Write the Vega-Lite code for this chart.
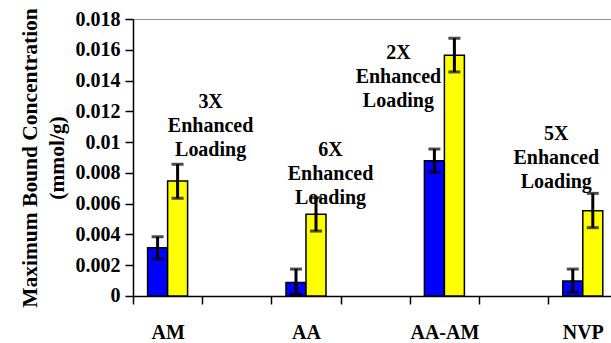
{
  "$schema": "https://vega.github.io/schema/vega-lite/v6.json",
  "autosize": {"type": "none"},
  "padding": {"left": 133, "top": 19, "right": 0, "bottom": 47},
  "width": 484.4,
  "height": 277,
  "background": "white",
  "config": {
    "view": {"stroke": "#8c8c8c", "strokeWidth": 1},
    "font": "Liberation Serif",
    "axisY": {
      "titleFont": "Liberation Serif",
      "titleFontSize": 21.5,
      "titleFontWeight": "bold",
      "titleColor": "black",
      "titlePadding": 6,
      "titleLineHeight": 27,
      "grid": false,
      "labelOverlap": false,
      "labelFont": "Liberation Serif",
      "labelFontWeight": "bold",
      "labelFontSize": 20,
      "labelColor": "black",
      "labelPadding": 5,
      "tickColor": "black",
      "tickSize": 8,
      "tickWidth": 1.5,
      "domainColor": "black",
      "domainWidth": 1.5
    }
  },
  "data": {
    "values": [
      {"cat": "AM", "series": "s1", "value": 0.00314, "lo": 0.0024, "hi": 0.00385},
      {"cat": "AM", "series": "s2", "value": 0.00747, "lo": 0.00635, "hi": 0.00856},
      {"cat": "AA", "series": "s1", "value": 0.00087, "lo": 0.00013, "hi": 0.00175},
      {"cat": "AA", "series": "s2", "value": 0.00531, "lo": 0.00422, "hi": 0.00639},
      {"cat": "AA-AM", "series": "s1", "value": 0.00879, "lo": 0.00804, "hi": 0.00955},
      {"cat": "AA-AM", "series": "s2", "value": 0.01564, "lo": 0.01456, "hi": 0.01675},
      {"cat": "NVP", "series": "s1", "value": 0.00097, "lo": 0.00024, "hi": 0.00175},
      {"cat": "NVP", "series": "s2", "value": 0.00554, "lo": 0.00444, "hi": 0.00667}
    ]
  },
  "encoding": {
    "x": {
      "field": "cat",
      "type": "nominal",
      "sort": null,
      "scale": {"domain": ["AM", " ", "AA", "  ", "AA-AM", "   ", "NVP"], "paddingInner": 0, "paddingOuter": 0},
      "axis": {
        "title": null,
        "tickBand": "extent",
        "labelAngle": 0,
        "labelFont": "Liberation Serif",
        "labelFontWeight": "bold",
        "labelFontSize": 20,
        "labelColor": "black",
        "labelPadding": 19,
        "labelOverlap": false,
        "tickColor": "black",
        "tickSize": 8,
        "tickWidth": 1.5,
        "domainColor": "black",
        "domainWidth": 1.5
      }
    }
  },
  "layer": [
    {
      "mark": {"type": "bar", "stroke": "black", "strokeWidth": 1.5},
      "encoding": {
        "xOffset": {"field": "series", "type": "nominal", "scale": {"paddingInner": 0, "paddingOuter": 0.73}},
        "y": {
          "field": "value",
          "type": "quantitative",
          "scale": {"domain": [0, 0.018], "nice": false},
          "axis": {"title": ["Maximum Bound Concentration", "(mmol/g)"], "values": [0, 0.002, 0.004, 0.006, 0.008, 0.01, 0.012, 0.014, 0.016, 0.018], "format": "~g"}
        },
        "color": {
          "field": "series",
          "type": "nominal",
          "scale": {"domain": ["s1", "s2"], "range": ["#0000FF", "#FFFF00"]},
          "legend": null
        }
      }
    },
    {
      "mark": {"type": "rule", "color": "black", "strokeWidth": 3},
      "encoding": {
        "xOffset": {"field": "series", "type": "nominal", "scale": {"paddingInner": 0, "paddingOuter": 0.73}},
        "y": {"field": "lo", "type": "quantitative", "axis": {"title": ["Maximum Bound Concentration", "(mmol/g)"], "values": [0, 0.002, 0.004, 0.006, 0.008, 0.01, 0.012, 0.014, 0.016, 0.018], "format": "~g"}},
        "y2": {"field": "hi"}
      }
    },
    {
      "mark": {"type": "tick", "color": "black", "size": 12, "thickness": 3},
      "encoding": {
        "xOffset": {"field": "series", "type": "nominal", "scale": {"paddingInner": 0, "paddingOuter": 0.73}},
        "y": {"field": "hi", "type": "quantitative", "axis": {"title": ["Maximum Bound Concentration", "(mmol/g)"], "values": [0, 0.002, 0.004, 0.006, 0.008, 0.01, 0.012, 0.014, 0.016, 0.018], "format": "~g"}}
      }
    },
    {
      "mark": {"type": "tick", "color": "black", "size": 12, "thickness": 3},
      "encoding": {
        "xOffset": {"field": "series", "type": "nominal", "scale": {"paddingInner": 0, "paddingOuter": 0.73}},
        "y": {"field": "lo", "type": "quantitative", "axis": {"title": ["Maximum Bound Concentration", "(mmol/g)"], "values": [0, 0.002, 0.004, 0.006, 0.008, 0.01, 0.012, 0.014, 0.016, 0.018], "format": "~g"}}
      }
    },
    {
      "data": {"values": [{"cat": "AM", "y": 0.01222, "label": ["3X", "Enhanced", "Loading"]}]},
      "mark": {"type": "text", "font": "Liberation Serif", "fontWeight": "bold", "fontSize": 20, "lineHeight": 24, "baseline": "alphabetic", "align": "center", "dx": 43, "color": "black"},
      "encoding": {"y": {"field": "y", "type": "quantitative", "axis": {"title": ["Maximum Bound Concentration", "(mmol/g)"], "values": [0, 0.002, 0.004, 0.006, 0.008, 0.01, 0.012, 0.014, 0.016, 0.018], "format": "~g"}}, "text": {"field": "label"}}
    },
    {
      "data": {"values": [{"cat": "AA", "y": 0.0091, "label": ["6X", "Enhanced", "Loading"]}]},
      "mark": {"type": "text", "font": "Liberation Serif", "fontWeight": "bold", "fontSize": 20, "lineHeight": 24, "baseline": "alphabetic", "align": "center", "dx": 24.5, "color": "black"},
      "encoding": {"y": {"field": "y", "type": "quantitative", "axis": {"title": ["Maximum Bound Concentration", "(mmol/g)"], "values": [0, 0.002, 0.004, 0.006, 0.008, 0.01, 0.012, 0.014, 0.016, 0.018], "format": "~g"}}, "text": {"field": "label"}}
    },
    {
      "data": {"values": [{"cat": "AA-AM", "y": 0.0154, "label": ["2X", "Enhanced", "Loading"]}]},
      "mark": {"type": "text", "font": "Liberation Serif", "fontWeight": "bold", "fontSize": 20, "lineHeight": 24, "baseline": "alphabetic", "align": "center", "dx": -46, "color": "black"},
      "encoding": {"y": {"field": "y", "type": "quantitative", "axis": {"title": ["Maximum Bound Concentration", "(mmol/g)"], "values": [0, 0.002, 0.004, 0.006, 0.008, 0.01, 0.012, 0.014, 0.016, 0.018], "format": "~g"}}, "text": {"field": "label"}}
    },
    {
      "data": {"values": [{"cat": "NVP", "y": 0.01014, "label": ["5X", "Enhanced", "Loading"]}]},
      "mark": {"type": "text", "font": "Liberation Serif", "fontWeight": "bold", "fontSize": 20, "lineHeight": 24, "baseline": "alphabetic", "align": "center", "dx": -26.5, "color": "black"},
      "encoding": {"y": {"field": "y", "type": "quantitative", "axis": {"title": ["Maximum Bound Concentration", "(mmol/g)"], "values": [0, 0.002, 0.004, 0.006, 0.008, 0.01, 0.012, 0.014, 0.016, 0.018], "format": "~g"}}, "text": {"field": "label"}}
    }
  ]
}
